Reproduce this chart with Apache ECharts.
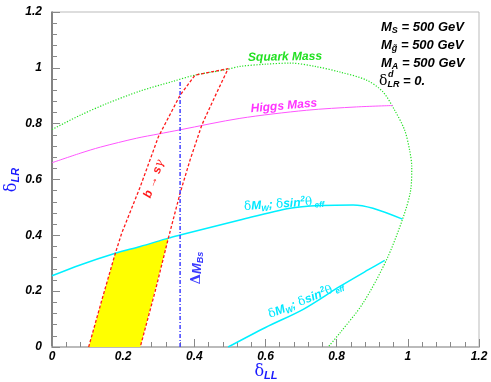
<!DOCTYPE html>
<html>
<head>
<meta charset="utf-8">
<script src="https://cdn.jsdelivr.net/npm/echarts@6/dist/echarts.min.js"></script>
<style>
  html, body { margin: 0; padding: 0; background: #fff; }
  #chart { width: 491px; height: 382px; }
</style>
</head>
<body>
<div id="chart"></div>
<script>
// curves, [deltaLL, deltaLR]
const squarkMass = [
  [0, 0.779], [0.079, 0.830], [0.154, 0.872], [0.248, 0.917], [0.341, 0.952],
  [0.402, 0.974], [0.491, 0.994], [0.528, 1.005], [0.600, 1.013], [0.669, 1.017],
  [0.740, 1.005], [0.809, 0.985], [0.884, 0.956], [0.930, 0.914], [0.963, 0.848],
  [0.991, 0.777], [1.005, 0.705], [1.011, 0.646], [1.008, 0.562], [0.986, 0.461],
  [0.940, 0.312], [0.874, 0.157], [0.809, 0.050], [0.776, 0]
];
const higgsMass = [
  [0, 0.660], [0.079, 0.694], [0.136, 0.716], [0.238, 0.748], [0.299, 0.763],
  [0.360, 0.778], [0.528, 0.819], [0.715, 0.848], [0.856, 0.860], [0.958, 0.865]
];
const ewUpper = [
  [0, 0.255], [0.079, 0.294], [0.178, 0.336], [0.248, 0.360], [0.327, 0.390],
  [0.360, 0.401], [0.528, 0.455], [0.669, 0.497], [0.760, 0.507], [0.846, 0.509],
  [0.902, 0.497], [0.985, 0.458]
];
const ewLower = [
  [0.495, 0], [0.600, 0.070], [0.706, 0.135], [0.809, 0.217], [0.888, 0.276], [0.935, 0.310]
];
const bsGamma = [
  [0.103, 0], [0.140, 0.168], [0.178, 0.336], [0.196, 0.408], [0.248, 0.574],
  [0.299, 0.753], [0.360, 0.902], [0.402, 0.974], [0.495, 0.997], [0.453, 0.884],
  [0.421, 0.795], [0.388, 0.670], [0.360, 0.551], [0.327, 0.390], [0.290, 0.200],
  [0.248, 0]
];
const allowedRegion = [
  [0.103, 0], [0.178, 0.336], [0.248, 0.360], [0.327, 0.390], [0.248, 0]
];
const deltaMBs = [[0.36, 0], [0.36, 0.956]];

const xRange = [0, 1.2];
const yRange = [0, 1.2];
const tickStep = 0.2;

const FONT = "'Liberation Sans', Arial, sans-serif";
const SERIF = "'DejaVu Serif', 'Liberation Serif', serif";

let chart = echarts.init(document.getElementById("chart"));

const axisCommon = {
  type: "value",
  interval: tickStep,
  splitLine: { show: false },
  axisTick: { inside: true, length: 8, lineStyle: { color: "#888" } },
  minorTick: { show: true, splitNumber: 5, length: 5, lineStyle: { color: "#888" } },
  axisLabel: {
    fontFamily: FONT,
    fontStyle: "italic",
    fontWeight: "bold",
    fontSize: 12,
    color: "#000",
  },
};

const sub = { fontFamily: FONT, fontStyle: "italic", fontWeight: "bold", fontSize: 9, lineHeight: 9, verticalAlign: "bottom" };
const sup = { fontFamily: FONT, fontStyle: "italic", fontWeight: "bold", fontSize: 8, lineHeight: 8, verticalAlign: "top" };
const main = { fontFamily: FONT, fontStyle: "italic", fontWeight: "bold", fontSize: 13, lineHeight: 17 };
const greek = { fontFamily: SERIF, fontSize: 13, lineHeight: 17 };

function txt(x, y, text, rich, color, rotation, align) {
  return {
    type: "text",
    x: x,
    y: y,
    rotation: ((rotation || 0) * Math.PI) / 180,
    z: 100,
    style: {
      text: text,
      rich: rich,
      fill: color,
      align: align || "center",
      verticalAlign: "middle",
    },
  };
}

const ewLabel = "{g|δ}{m|M}{s|W}{m|; }{g|δ}{m|sin}{p|2}{g|θ}{s| eff}";
const ewRich = {
  m: Object.assign({}, main, { fontSize: 12, lineHeight: 15 }),
  s: Object.assign({}, sub, { fontSize: 8, lineHeight: 8 }),
  p: Object.assign({}, sup, { fontSize: 8 }),
  g: Object.assign({}, greek, { fontSize: 12, lineHeight: 15 }),
};
const labelRich = { m: Object.assign({}, main, { fontSize: 12 }) };

chart.setOption({
  animation: false,
  grid: {
    left: 52, right: 12, top: 12, bottom: 35,
    show: true, borderColor: "#bbb", borderWidth: 1,
  },
  xAxis: Object.assign({}, axisCommon, {
    min: xRange[0], max: xRange[1],
    axisLine: { show: true, lineStyle: { color: "#bbb", width: 2 } },
    axisLabel: Object.assign({}, axisCommon.axisLabel, { margin: 4 }),
  }),
  yAxis: Object.assign({}, axisCommon, {
    min: yRange[0], max: yRange[1],
    axisLine: { show: true, lineStyle: { color: "#666", width: 1.5 } },
    axisLabel: Object.assign({}, axisCommon.axisLabel, { margin: 10 }),
  }),
  series: [
    {
      type: "custom",
      data: allowedRegion,
      z: 1,
      renderItem: function (params, api) {
        if (params.dataIndex !== 0) return;
        const pts = allowedRegion.map((p) => api.coord(p));
        return { type: "polygon", shape: { points: pts }, style: { fill: "#ffff00" } };
      },
    },
    {
      name: "Squark Mass", type: "line", data: squarkMass, symbol: "none", smooth: 0.3,
      lineStyle: { color: "#22e022", width: 1.2, type: [1.2, 1.6] }, z: 3,
    },
    {
      name: "Higgs Mass", type: "line", data: higgsMass, symbol: "none", smooth: 0.3,
      lineStyle: { color: "#ff55ff", width: 1 }, z: 3,
    },
    {
      name: "ew upper", type: "line", data: ewUpper, symbol: "none", smooth: 0.3,
      lineStyle: { color: "#00f0ff", width: 1.5 }, z: 3,
    },
    {
      name: "ew lower", type: "line", data: ewLower, symbol: "none", smooth: 0.3,
      lineStyle: { color: "#00f0ff", width: 1.5 }, z: 3,
    },
    {
      name: "b -> s gamma", type: "line", data: bsGamma, symbol: "none",
      lineStyle: { color: "#ff1a1a", width: 1.3, type: [3, 2] }, z: 4,
    },
    {
      name: "Delta M_Bs", type: "line", data: deltaMBs, symbol: "none",
      lineStyle: { color: "#4040ff", width: 1.5, type: [4, 2, 1, 2] }, z: 4,
    },
  ],
  graphic: [
    txt(285, 57, "{m|Squark Mass}", labelRich, "#22e022", 1),
    txt(284, 106, "{m|Higgs Mass}", labelRich, "#ff33ff", 5),
    txt(284, 204, ewLabel, ewRich, "#00e8ff", 4),
    txt(306, 300, ewLabel, ewRich, "#00e8ff", 22),
    txt(154, 179, "{m|b → s}{g|γ}", {
      m: Object.assign({}, main, { fontSize: 12 }),
      g: Object.assign({}, greek, { fontSize: 12, fontStyle: "italic" }),
    }, "#ff1a1a", 70),
    txt(197, 268, "{g|Δ}{m|M}{s|Bs}", {
      m: Object.assign({}, main, { fontSize: 13 }),
      g: Object.assign({}, greek, { fontSize: 13, fontWeight: "bold" }),
      s: Object.assign({}, sub, { fontSize: 9 }),
    }, "#3a3aff", 90),
    // parameter box
    txt(381, 27, "{m|M}{s|S}{m| = 500 GeV}", { m: main, s: sub }, "#000", 0, "left"),
    txt(381, 45, "{m|M}{s|g̃}{m| = 500 GeV}", { m: main, s: sub }, "#000", 0, "left"),
    txt(381, 63, "{m|M}{s|A}{m| = 500 GeV}", { m: main, s: sub }, "#000", 0, "left"),
    txt(379, 81, "{g|δ}{s|LR}{m| = 0.}", { m: main, s: sub, g: Object.assign({}, greek, { fontSize: 14 }) }, "#000", 0, "left"),
    txt(388, 74, "{p|d}", { p: Object.assign({}, sup, { fontSize: 9 }) }, "#000", 0, "left"),
    // axis names
    txt(266, 372, "{g|δ}{s|LL}", {
      g: Object.assign({}, greek, { fontSize: 16, lineHeight: 18 }),
      s: Object.assign({}, sub, { fontSize: 11, lineHeight: 11 }),
    }, "#1a1aff", 0),
    txt(12, 180, "{g|δ}{s|LR}", {
      g: Object.assign({}, greek, { fontSize: 16, lineHeight: 18 }),
      s: Object.assign({}, sub, { fontSize: 11, lineHeight: 11 }),
    }, "#1a1aff", 90),
  ],
});
</script>
</body>
</html>
